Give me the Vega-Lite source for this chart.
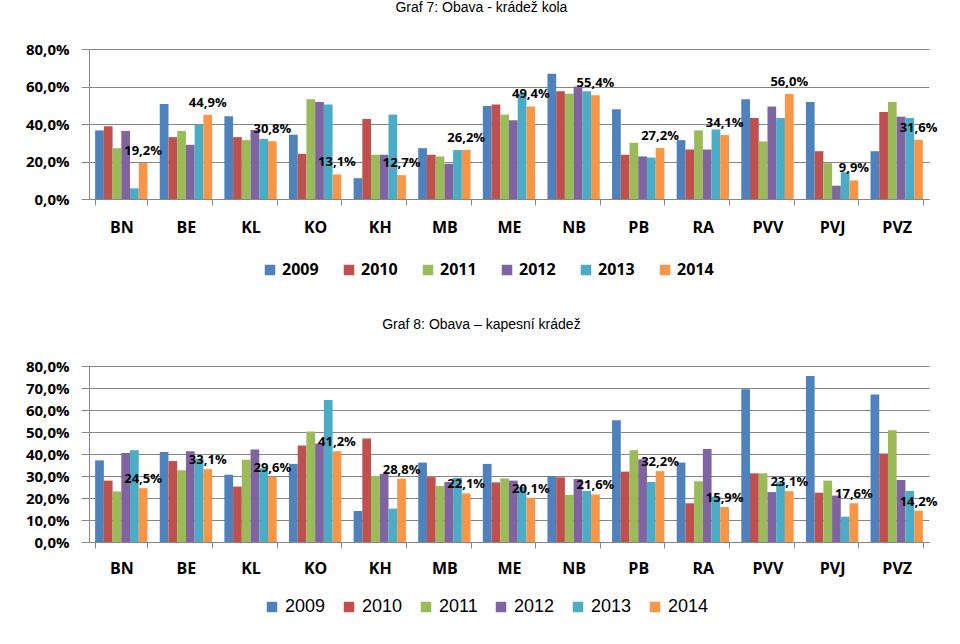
{
  "$schema": "https://vega.github.io/schema/vega-lite/v6.json",
  "padding": {"left": 25, "top": 1, "right": 0, "bottom": 0},
  "background": "white",
  "spacing": 40,
  "resolve": {"scale": {"color": "independent"}, "legend": {"color": "independent"}},
  "datasets": {
    "g7": [
      {"g":"BN","year":"2009","v":0.366},{"g":"BN","year":"2010","v":0.388},{"g":"BN","year":"2011","v":0.271},{"g":"BN","year":"2012","v":0.363},{"g":"BN","year":"2013","v":0.057},{"g":"BN","year":"2014","v":0.192},
      {"g":"BE","year":"2009","v":0.507},{"g":"BE","year":"2010","v":0.330},{"g":"BE","year":"2011","v":0.363},{"g":"BE","year":"2012","v":0.289},{"g":"BE","year":"2013","v":0.396},{"g":"BE","year":"2014","v":0.449},
      {"g":"KL","year":"2009","v":0.441},{"g":"KL","year":"2010","v":0.330},{"g":"KL","year":"2011","v":0.314},{"g":"KL","year":"2012","v":0.368},{"g":"KL","year":"2013","v":0.320},{"g":"KL","year":"2014","v":0.308},
      {"g":"KO","year":"2009","v":0.343},{"g":"KO","year":"2010","v":0.241},{"g":"KO","year":"2011","v":0.532},{"g":"KO","year":"2012","v":0.518},{"g":"KO","year":"2013","v":0.504},{"g":"KO","year":"2014","v":0.131},
      {"g":"KH","year":"2009","v":0.111},{"g":"KH","year":"2010","v":0.427},{"g":"KH","year":"2011","v":0.236},{"g":"KH","year":"2012","v":0.236},{"g":"KH","year":"2013","v":0.450},{"g":"KH","year":"2014","v":0.127},
      {"g":"MB","year":"2009","v":0.271},{"g":"MB","year":"2010","v":0.236},{"g":"MB","year":"2011","v":0.227},{"g":"MB","year":"2012","v":0.188},{"g":"MB","year":"2013","v":0.261},{"g":"MB","year":"2014","v":0.262},
      {"g":"ME","year":"2009","v":0.496},{"g":"ME","year":"2010","v":0.504},{"g":"ME","year":"2011","v":0.450},{"g":"ME","year":"2012","v":0.420},{"g":"ME","year":"2013","v":0.563},{"g":"ME","year":"2014","v":0.494},
      {"g":"NB","year":"2009","v":0.668},{"g":"NB","year":"2010","v":0.575},{"g":"NB","year":"2011","v":0.561},{"g":"NB","year":"2012","v":0.600},{"g":"NB","year":"2013","v":0.575},{"g":"NB","year":"2014","v":0.554},
      {"g":"PB","year":"2009","v":0.479},{"g":"PB","year":"2010","v":0.236},{"g":"PB","year":"2011","v":0.300},{"g":"PB","year":"2012","v":0.227},{"g":"PB","year":"2013","v":0.221},{"g":"PB","year":"2014","v":0.272},
      {"g":"RA","year":"2009","v":0.314},{"g":"RA","year":"2010","v":0.264},{"g":"RA","year":"2011","v":0.366},{"g":"RA","year":"2012","v":0.264},{"g":"RA","year":"2013","v":0.371},{"g":"RA","year":"2014","v":0.341},
      {"g":"PVV","year":"2009","v":0.532},{"g":"PVV","year":"2010","v":0.432},{"g":"PVV","year":"2011","v":0.307},{"g":"PVV","year":"2012","v":0.493},{"g":"PVV","year":"2013","v":0.432},{"g":"PVV","year":"2014","v":0.560},
      {"g":"PVJ","year":"2009","v":0.518},{"g":"PVJ","year":"2010","v":0.255},{"g":"PVJ","year":"2011","v":0.191},{"g":"PVJ","year":"2012","v":0.071},{"g":"PVJ","year":"2013","v":0.143},{"g":"PVJ","year":"2014","v":0.099},
      {"g":"PVZ","year":"2009","v":0.255},{"g":"PVZ","year":"2010","v":0.464},{"g":"PVZ","year":"2011","v":0.518},{"g":"PVZ","year":"2012","v":0.439},{"g":"PVZ","year":"2013","v":0.432},{"g":"PVZ","year":"2014","v":0.316}
    ],
    "g8": [
      {"g":"BN","year":"2009","v":0.371},{"g":"BN","year":"2010","v":0.279},{"g":"BN","year":"2011","v":0.230},{"g":"BN","year":"2012","v":0.405},{"g":"BN","year":"2013","v":0.417},{"g":"BN","year":"2014","v":0.245},
      {"g":"BE","year":"2009","v":0.409},{"g":"BE","year":"2010","v":0.368},{"g":"BE","year":"2011","v":0.326},{"g":"BE","year":"2012","v":0.412},{"g":"BE","year":"2013","v":0.379},{"g":"BE","year":"2014","v":0.331},
      {"g":"KL","year":"2009","v":0.306},{"g":"KL","year":"2010","v":0.252},{"g":"KL","year":"2011","v":0.374},{"g":"KL","year":"2012","v":0.420},{"g":"KL","year":"2013","v":0.335},{"g":"KL","year":"2014","v":0.296},
      {"g":"KO","year":"2009","v":0.355},{"g":"KO","year":"2010","v":0.439},{"g":"KO","year":"2011","v":0.502},{"g":"KO","year":"2012","v":0.448},{"g":"KO","year":"2013","v":0.645},{"g":"KO","year":"2014","v":0.412},
      {"g":"KH","year":"2009","v":0.141},{"g":"KH","year":"2010","v":0.471},{"g":"KH","year":"2011","v":0.300},{"g":"KH","year":"2012","v":0.309},{"g":"KH","year":"2013","v":0.152},{"g":"KH","year":"2014","v":0.288},
      {"g":"MB","year":"2009","v":0.361},{"g":"MB","year":"2010","v":0.295},{"g":"MB","year":"2011","v":0.255},{"g":"MB","year":"2012","v":0.273},{"g":"MB","year":"2013","v":0.292},{"g":"MB","year":"2014","v":0.221},
      {"g":"ME","year":"2009","v":0.355},{"g":"ME","year":"2010","v":0.271},{"g":"ME","year":"2011","v":0.289},{"g":"ME","year":"2012","v":0.279},{"g":"ME","year":"2013","v":0.250},{"g":"ME","year":"2014","v":0.201},
      {"g":"NB","year":"2009","v":0.300},{"g":"NB","year":"2010","v":0.294},{"g":"NB","year":"2011","v":0.214},{"g":"NB","year":"2012","v":0.286},{"g":"NB","year":"2013","v":0.232},{"g":"NB","year":"2014","v":0.216},
      {"g":"PB","year":"2009","v":0.553},{"g":"PB","year":"2010","v":0.320},{"g":"PB","year":"2011","v":0.417},{"g":"PB","year":"2012","v":0.376},{"g":"PB","year":"2013","v":0.273},{"g":"PB","year":"2014","v":0.322},
      {"g":"RA","year":"2009","v":0.361},{"g":"RA","year":"2010","v":0.176},{"g":"RA","year":"2011","v":0.276},{"g":"RA","year":"2012","v":0.423},{"g":"RA","year":"2013","v":0.206},{"g":"RA","year":"2014","v":0.159},
      {"g":"PVV","year":"2009","v":0.694},{"g":"PVV","year":"2010","v":0.312},{"g":"PVV","year":"2011","v":0.312},{"g":"PVV","year":"2012","v":0.227},{"g":"PVV","year":"2013","v":0.274},{"g":"PVV","year":"2014","v":0.231},
      {"g":"PVJ","year":"2009","v":0.755},{"g":"PVJ","year":"2010","v":0.224},{"g":"PVJ","year":"2011","v":0.279},{"g":"PVJ","year":"2012","v":0.211},{"g":"PVJ","year":"2013","v":0.115},{"g":"PVJ","year":"2014","v":0.176},
      {"g":"PVZ","year":"2009","v":0.670},{"g":"PVZ","year":"2010","v":0.402},{"g":"PVZ","year":"2011","v":0.508},{"g":"PVZ","year":"2012","v":0.282},{"g":"PVZ","year":"2013","v":0.232},{"g":"PVZ","year":"2014","v":0.142}
    ]
  },
  "vconcat": [
    {
      "title": {"text": "Graf 7: Obava - krádež kola", "offset": 27},
      "width": 840, "height": 150,
      "data": {"name": "g7"},
      "encoding": {
        "x": {"field": "g", "type": "nominal", "sort": null, "title": null,
              "scale": {"paddingInner": 0.19, "paddingOuter": 0.095},
              "axis": {"labelAngle": 0, "tickBand": "extent", "tickSize": 6, "labelPadding": 14, "labelFontSize": 16}},
        "xOffset": {"field": "year", "type": "nominal"},
        "y": {"field": "v", "type": "quantitative", "title": null,
              "scale": {"domain": [0, 0.8], "nice": false},
              "axis": {"values": [0, 0.2, 0.4, 0.6, 0.8], "format": ".1%", "tickSize": 8, "labelPadding": 12, "labelFontSize": 15}}
      },
      "layer": [
        {"mark": {"type": "bar"},
         "encoding": {"color": {"field": "year", "type": "nominal",
           "scale": {"range": ["#4F81BD", "#C0504D", "#9BBB59", "#8064A2", "#4BACC6", "#F79646"]},
           "legend": {"title": null, "orient": "none", "legendX": 173, "legendY": 213, "direction": "horizontal", "symbolType": "square", "symbolSize": 110, "labelFont": "Open Sans", "labelFontWeight": "bold", "labelFontSize": 16, "columnPadding": 22}}}},
        {"transform": [{"filter": "datum.year === '2014'"}],
         "mark": {"type": "text", "baseline": "bottom", "dy": -5, "font": "Open Sans", "fontWeight": "bold", "fontSize": 13, "color": "#000"},
         "encoding": {"text": {"field": "v", "type": "quantitative", "format": ".1%"}}}
      ]
    },
    {
      "title": {"text": "Graf 8: Obava – kapesní krádež", "offset": 27},
      "width": 840, "height": 176,
      "data": {"name": "g8"},
      "encoding": {
        "x": {"field": "g", "type": "nominal", "sort": null, "title": null,
              "scale": {"paddingInner": 0.19, "paddingOuter": 0.095},
              "axis": {"labelAngle": 0, "tickBand": "extent", "tickSize": 6, "labelPadding": 12, "labelFontSize": 16}},
        "xOffset": {"field": "year", "type": "nominal"},
        "y": {"field": "v", "type": "quantitative", "title": null,
              "scale": {"domain": [0, 0.8], "nice": false},
              "axis": {"values": [0, 0.1, 0.2, 0.3, 0.4, 0.5, 0.6, 0.7, 0.8], "format": ".1%", "tickSize": 8, "labelPadding": 12, "labelFontSize": 15}}
      },
      "layer": [
        {"mark": {"type": "bar"},
         "encoding": {"color": {"field": "year", "type": "nominal",
           "scale": {"range": ["#4F81BD", "#C0504D", "#9BBB59", "#8064A2", "#4BACC6", "#F79646"]},
           "legend": {"title": null, "orient": "none", "legendX": 174, "legendY": 232, "direction": "horizontal", "symbolType": "square", "symbolSize": 110, "labelFont": "Liberation Sans", "labelFontWeight": "normal", "labelFontSize": 18, "columnPadding": 14}}}},
        {"transform": [{"filter": "datum.year === '2014'"}],
         "mark": {"type": "text", "baseline": "bottom", "dy": -2, "font": "Open Sans", "fontWeight": "bold", "fontSize": 13, "color": "#000"},
         "encoding": {"text": {"field": "v", "type": "quantitative", "format": ".1%"}}}
      ]
    }
  ],
  "config": {
    "locale": {"number": {"decimal": ",", "thousands": " ", "grouping": [3], "currency": ["", " Kč"]}},
    "view": {"stroke": null},
    "axis": {"domainColor": "#868686", "tickColor": "#868686", "gridColor": "#868686", "gridOpacity": 1, "labelFont": "Open Sans", "labelFontWeight": "bold", "labelColor": "#000"},
    "axisX": {"grid": false},
    "title": {"font": "Liberation Sans", "fontSize": 14, "fontWeight": "normal", "color": "#000", "anchor": "middle", "frame": "bounds"}
  }
}
